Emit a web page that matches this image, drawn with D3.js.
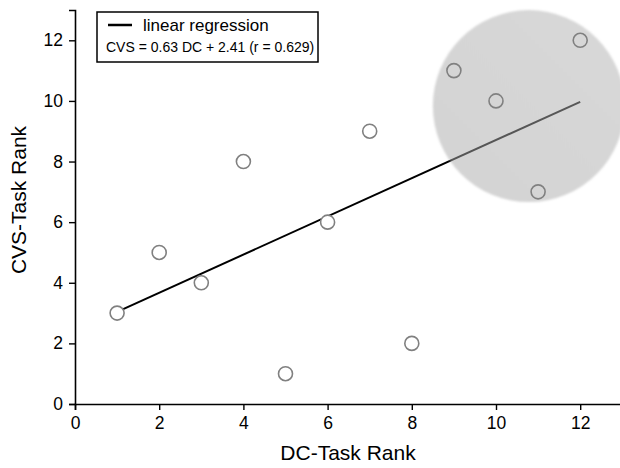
<!DOCTYPE html>
<html>
<head>
<meta charset="utf-8">
<script src="https://cdn.jsdelivr.net/npm/d3@7"></script>
<style>
  html, body { margin: 0; padding: 0; background: #fff; }
  svg { display: block; font-family: "Liberation Sans", Arial, sans-serif; }
</style>
</head>
<body>
<svg id="chart" width="620" height="468"></svg>
<script>
// Rank of each participant on the two tasks
const dcRank  = [1, 2, 3, 4, 5, 6, 7, 8, 9, 10, 11, 12];
const cvsRank = [3, 5, 4, 8, 1, 6, 9, 2, 11, 10, 7, 12];

// Fitted line: CVS = slope * DC + intercept
const slope = 0.63;
const intercept = 2.41;
const rValue = 0.629;
const fitRange = [1, 12];

// Highlighted cluster (centre in data units, radius in DC units)
const clusterCenter = [10.78, 9.83];
const clusterRadius = 2.28;

const xTicks = [0, 2, 4, 6, 8, 10, 12];
const yTicks = [0, 2, 4, 6, 8, 10, 12];

const svg = d3.select("#chart");
const margin = { left: 75, top: 10, bottom: 64 };
const W = 620, H = 468;

const x = d3.scaleLinear().domain([0, 13]).range([margin.left, margin.left + 13 * 42.1]);
const y = d3.scaleLinear().domain([0, 13]).range([H - margin.bottom, margin.top]);

// Regression line
const fit = fitRange.map(d => [d, slope * d + intercept]);
svg.append("line")
  .attr("x1", x(fit[0][0])).attr("y1", y(fit[0][1]))
  .attr("x2", x(fit[1][0])).attr("y2", y(fit[1][1]))
  .attr("stroke", "#000").attr("stroke-width", 2);

const pts = dcRank.map((d, i) => ({ dc: d, cvs: cvsRank[i] }));

// Marker discs (white) sit under the highlight
svg.append("g").selectAll("circle").data(pts).join("circle")
  .attr("cx", d => x(d.dc)).attr("cy", d => y(d.cvs)).attr("r", 7)
  .attr("fill", "#fff");

// Translucent highlight circle
const defs = svg.append("defs");
const grad = defs.append("linearGradient").attr("id", "hl")
  .attr("x1", "0").attr("y1", "1").attr("x2", "1").attr("y2", "0");
grad.append("stop").attr("offset", "0").attr("stop-color", "#a8a8a8");
grad.append("stop").attr("offset", "1").attr("stop-color", "#b2b2b2");
defs.append("filter").attr("id", "soft")
  .append("feGaussianBlur").attr("stdDeviation", 1.2);

const rPx = x(clusterRadius) - x(0);
svg.append("circle")
  .attr("cx", x(clusterCenter[0])).attr("cy", y(clusterCenter[1]))
  .attr("r", rPx)
  .attr("fill", "url(#hl)").attr("fill-opacity", 0.5)
  .attr("filter", "url(#soft)");

// Marker outlines on top
svg.append("g").selectAll("circle").data(pts).join("circle")
  .attr("cx", d => x(d.dc)).attr("cy", d => y(d.cvs)).attr("r", 7)
  .attr("fill", "none").attr("stroke", "#808080").attr("stroke-width", 1.6);

// Axes
const xAxis = svg.append("g").attr("transform", `translate(0,${y(0)})`)
  .call(d3.axisBottom(x).tickValues(xTicks).tickSizeOuter(0).tickSize(6).tickPadding(7));
const yAxis = svg.append("g").attr("transform", `translate(${x(0)},0)`)
  .call(d3.axisLeft(y).tickValues(yTicks).tickSizeOuter(0).tickSize(6).tickPadding(6));
[xAxis, yAxis].forEach(a => {
  a.select(".domain").attr("stroke", "#000").attr("stroke-width", 1.6);
  a.selectAll(".tick line").attr("stroke", "#000").attr("stroke-width", 1.4);
  a.selectAll(".tick text").attr("fill", "#000").style("font-size", "17.5px")
    .style("font-family", "Liberation Sans, Arial, sans-serif");
});

// Axis titles
svg.append("text").attr("x", 348).attr("y", 460)
  .attr("text-anchor", "middle").style("font-size", "21px").text("DC-Task Rank");
svg.append("text")
  .attr("transform", `translate(26,200) rotate(-90)`)
  .attr("text-anchor", "middle").style("font-size", "21px").text("CVS-Task Rank");

// Legend
const lg = svg.append("g");
lg.append("rect").attr("x", 97).attr("y", 12).attr("width", 221).attr("height", 50)
  .attr("fill", "#fff").attr("stroke", "#000").attr("stroke-width", 1.5);
lg.append("line").attr("x1", 108).attr("x2", 132).attr("y1", 25).attr("y2", 25)
  .attr("stroke", "#000").attr("stroke-width", 2.5);
lg.append("text").attr("x", 143).attr("y", 31).style("font-size", "17px")
  .text("linear regression");
lg.append("text").attr("x", 106).attr("y", 52).style("font-size", "14px")
  .text(`CVS = ${slope.toFixed(2)} DC + ${intercept.toFixed(2)} (r = ${rValue.toFixed(3)})`);
</script>
</body>
</html>
